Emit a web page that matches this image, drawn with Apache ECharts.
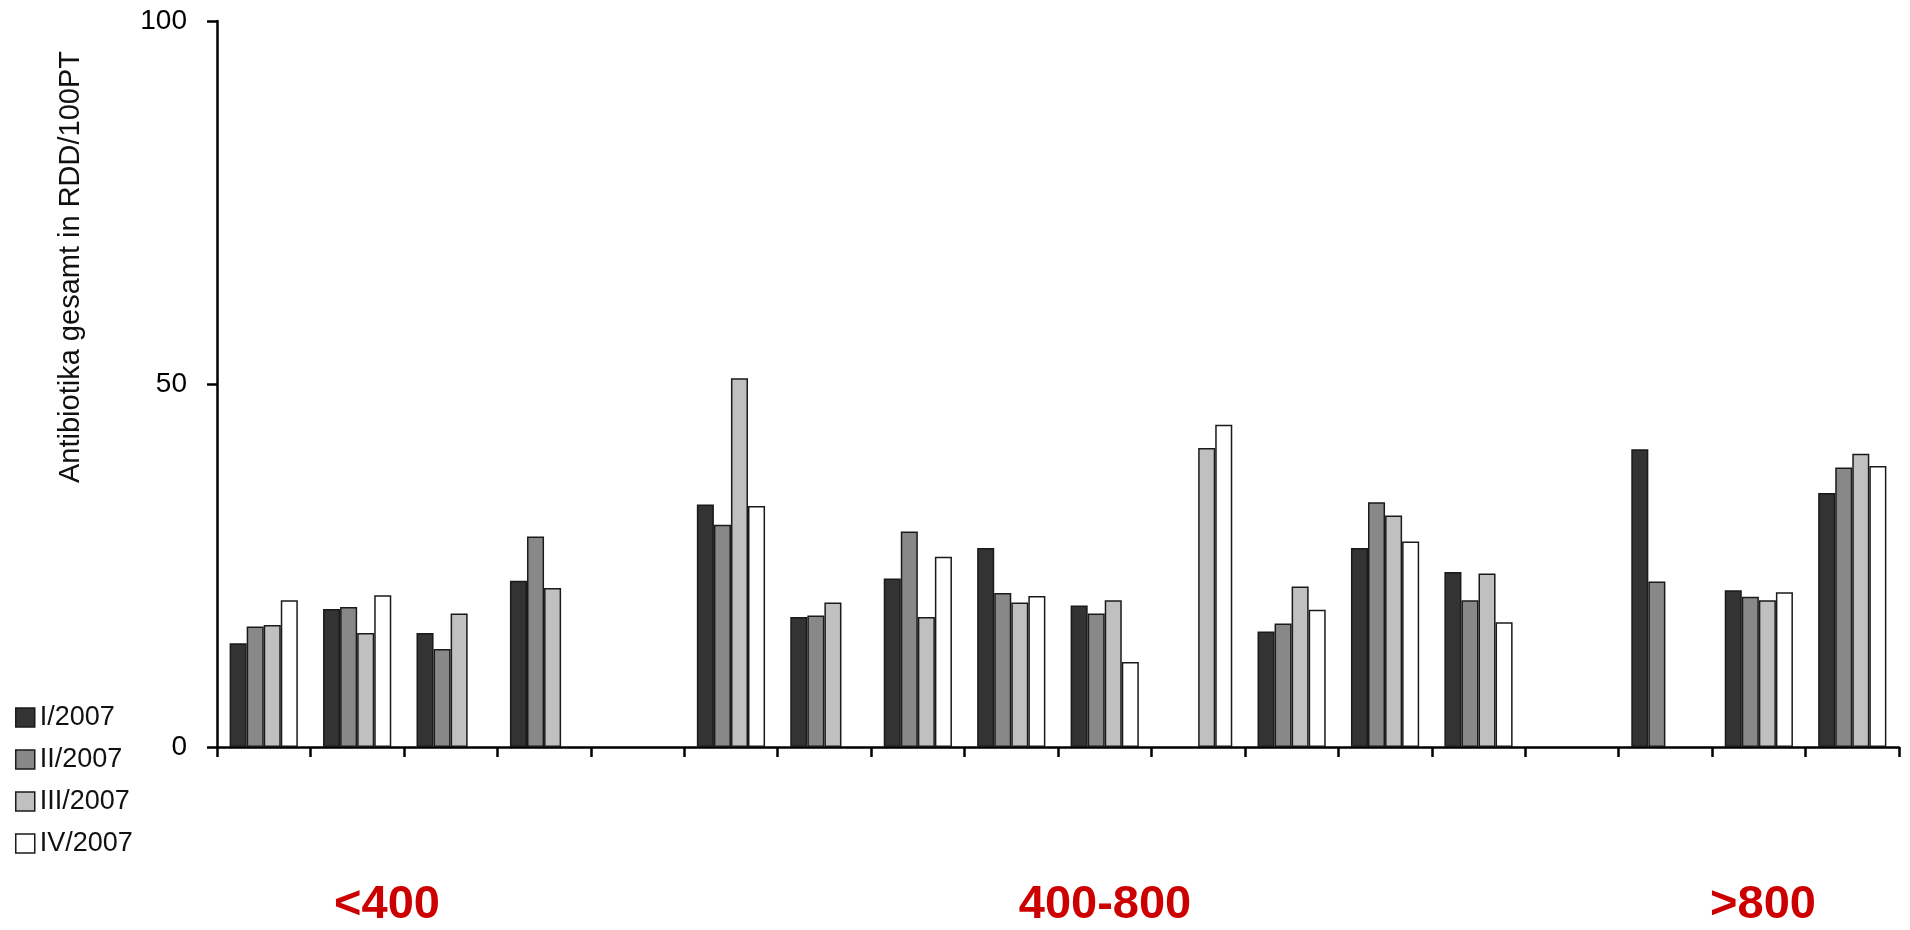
<!DOCTYPE html>
<html>
<head>
<meta charset="utf-8">
<script src="https://cdn.jsdelivr.net/npm/echarts@6/dist/echarts.min.js"></script>
<style>
html,body{margin:0;padding:0;background:#fff;}
#c{width:1910px;height:930px;}
</style>
</head>
<body>
<div id="c"></div>
<script>
// Hospitals (categories), grouped by bed count; empty categories separate groups
var categories = ['1','2','3','4','','6','7','8','9','10','11','12','13','14','','16','17','18'];
var seriesNames = ['I/2007','II/2007','III/2007','IV/2007'];
var q1 = [14.3, 19.0, 15.7, 22.9, null, 33.4, 17.9, 23.2, 27.4, 19.5, null, 15.9, 27.4, 24.1, null, 41.0, 21.6, 35.0];
var q2 = [16.6, 19.3, 13.5, 29.0, null, 30.6, 18.1, 29.7, 21.2, 18.4, null, 17.0, 33.7, 20.2, null, 22.8, 20.7, 38.5];
var q3 = [16.8, 15.7, 18.4, 21.9, null, 50.8, 19.9, 17.9, 19.9, 20.2, 41.2, 22.1, 31.9, 23.9, null, null, 20.2, 40.4];
var q4 = [20.2, 20.9, null, null, null, 33.2, null, 26.2, 20.8, 11.7, 44.4, 18.9, 28.3, 17.2, null, null, 21.3, 38.7];
var yTicks = [0, 50, 100];
var groupLabels = ['<400', '400-800', '>800'];
var yTitle = 'Antibiotika gesamt in RDD/100PT';

var colors = ['#333333', '#888888', '#c0c0c0', '#ffffff'];
var values = [q1, q2, q3, q4];
var font = '"Liberation Sans", Arial, sans-serif';

var chart = echarts.init(document.getElementById('c'), null, {renderer: 'canvas'});
var series = values.map(function (d, i) {
  return {
    name: seriesNames[i],
    type: 'bar',
    data: d,
    barGap: '0%',
    barCategoryGap: '27%',
    itemStyle: {color: colors[i], borderColor: '#1a1a1a', borderWidth: 1.5},
    emphasis: {disabled: true}
  };
});

var groupX = [387, 1105, 1763];
var graphics = groupLabels.map(function (t, i) {
  return {
    type: 'text',
    x: groupX[i], y: 905,
    style: {
      text: t, fill: '#cc0000', fontSize: 47, fontWeight: 'bold',
      fontFamily: font, align: 'center', verticalAlign: 'middle'
    }
  };
});
graphics.push({
  type: 'text',
  x: 71, y: 267,
  rotation: Math.PI / 2,
  style: {
    text: yTitle, fill: '#111', fontSize: 29, fontFamily: font,
    align: 'center', verticalAlign: 'middle'
  }
});

var legendText = {fontSize: 27, lineHeight: 27, color: '#111', fontFamily: font};
chart.setOption({
  animation: false,
  backgroundColor: '#ffffff',
  color: colors,
  grid: {left: 217, right: 11, top: 21, bottom: 183, containLabel: false},
  legend: {
    orient: 'vertical',
    left: 15, top: 704,
    padding: 0,
    icon: 'rect',
    itemWidth: 19, itemHeight: 19,
    itemGap: 15,
    selectedMode: false,
    data: seriesNames.map(function (n) { return {name: n, icon: 'rect', textStyle: legendText}; }),
    textStyle: legendText,
    itemStyle: {borderColor: '#1a1a1a', borderWidth: 1.5}
  },
  xAxis: {
    type: 'category',
    data: categories,
    axisLine: {show: true, lineStyle: {color: '#000', width: 2.5}},
    axisTick: {show: true, length: 10, inside: false, alignWithLabel: false, lineStyle: {color: '#000', width: 2.5}},
    axisLabel: {show: false},
    splitLine: {show: false}
  },
  yAxis: {
    type: 'value',
    min: yTicks[0], max: yTicks[yTicks.length - 1], interval: 50,
    axisLine: {show: true, lineStyle: {color: '#000', width: 2.5}},
    axisTick: {show: true, length: 10, lineStyle: {color: '#000', width: 2.5}},
    axisLabel: {show: true, fontSize: 28, color: '#000', fontFamily: font, margin: 30},
    splitLine: {show: false}
  },
  graphic: graphics,
  series: series
});
</script>
</body>
</html>
